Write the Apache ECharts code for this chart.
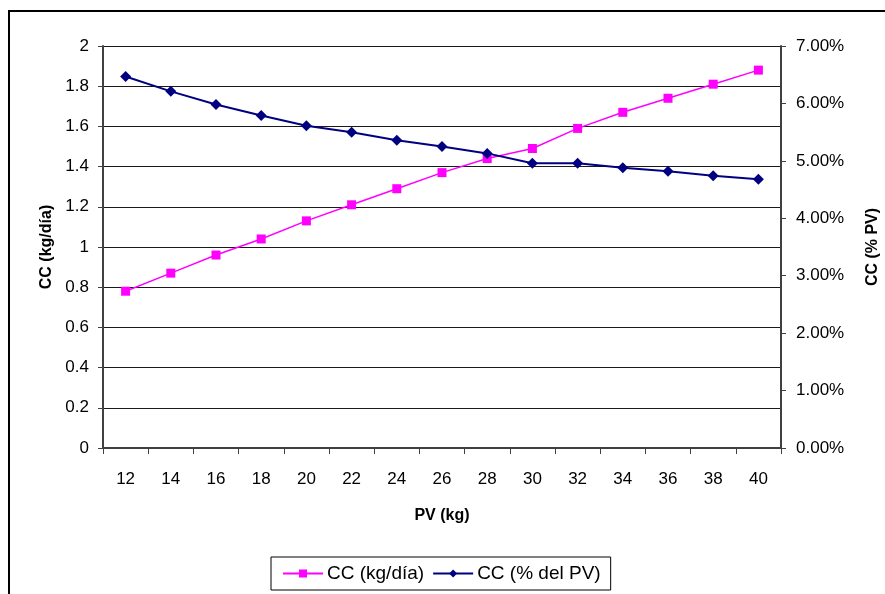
<!DOCTYPE html>
<html>
<head>
<meta charset="utf-8">
<script src="https://cdn.jsdelivr.net/npm/echarts@6/dist/echarts.min.js"></script>
<style>
  html, body { margin: 0; padding: 0; background: #fff; }
  #chart { width: 885px; height: 594px; }
</style>
</head>
<body>
<div id="chart"></div>
<script>
// PV (kg) categories
const pesoVivo = ["12", "14", "16", "18", "20", "22", "24", "26", "28", "30", "32", "34", "36", "38", "40"]
// CC (kg/día), left axis
const consumoKg = [0.78, 0.87, 0.96, 1.04, 1.13, 1.21, 1.29, 1.37, 1.44, 1.49, 1.59, 1.67, 1.74, 1.81, 1.88]
// CC (% del PV), right axis, in percent
const consumoPct = [6.47, 6.21, 5.98, 5.79, 5.61, 5.50, 5.36, 5.25, 5.13, 4.96, 4.96, 4.88, 4.82, 4.74, 4.68]

const font = "Liberation Sans, Arial, sans-serif"
const chart = echarts.init(document.getElementById("chart"))

chart.setOption({
  animation: false,
  backgroundColor: "#fff",
  textStyle: { fontFamily: font },
  graphic: [{
    type: "rect",
    shape: { x: 9, y: 11, width: 900, height: 600 },
    style: { fill: "none", stroke: "#000", lineWidth: 2 },
    silent: true
  }],
  grid: { left: 103, right: 104, top: 46, bottom: 146, containLabel: false, outerBoundsMode: "none" },
  legend: {
    left: 271,
    top: 557,
    padding: [7, 10, 7, 11],
    itemGap: 8,
    itemWidth: 40,
    itemHeight: 10,
    borderColor: "#000",
    borderWidth: 1,
    textStyle: { fontFamily: font, fontSize: 19, color: "#000", padding: [0, 0, 0, -1] },
    data: ["CC (kg/día)", "CC (% del PV)"]
  },
  xAxis: {
    type: "category",
    data: pesoVivo,
    boundaryGap: true,
    name: "PV (kg)",
    nameLocation: "middle",
    nameGap: 60,
    nameTextStyle: { fontFamily: font, fontSize: 16, fontWeight: "bold", color: "#000" },
    axisLine: { lineStyle: { color: "#404040", width: 2 } },
    axisTick: { show: true, alignWithLabel: false, length: 6, lineStyle: { color: "#404040" } },
    axisLabel: { margin: 23, fontSize: 17, color: "#000", fontFamily: font }
  },
  yAxis: [{
    type: "value",
    min: 0,
    max: 2,
    interval: 0.2,
    position: "left",
    name: "CC (kg/día)",
    nameLocation: "middle",
    nameRotate: 90,
    nameGap: 47,
    nameTextStyle: { fontFamily: font, fontSize: 16, fontWeight: "bold", color: "#000" },
    axisLine: { show: true, lineStyle: { color: "#404040", width: 2 } },
    axisTick: { show: true, length: 5, lineStyle: { color: "#404040" } },
    axisLabel: {
      margin: 14, fontSize: 17, color: "#000", fontFamily: font,
      formatter: v => String(Math.round(v * 10) / 10)
    },
    splitLine: { show: true, lineStyle: { color: "#1a1a1a", width: 1 } }
  }, {
    type: "value",
    min: 0,
    max: 7,
    interval: 1,
    position: "right",
    name: "CC (% PV)",
    nameLocation: "middle",
    nameRotate: 90,
    nameGap: 84,
    nameTextStyle: { fontFamily: font, fontSize: 16, fontWeight: "bold", color: "#000" },
    axisLine: { show: true, lineStyle: { color: "#404040", width: 2 } },
    axisTick: { show: true, length: 5, lineStyle: { color: "#404040" } },
    axisLabel: {
      margin: 15, fontSize: 17, color: "#000", fontFamily: font,
      formatter: v => v.toFixed(2) + "%"
    },
    splitLine: { show: false }
  }],
  series: [{
    name: "CC (kg/día)",
    type: "line",
    yAxisIndex: 0,
    data: consumoKg,
    symbol: "rect",
    symbolSize: 9,
    color: "#FF00FF",
    lineStyle: { color: "#FF00FF", width: 1.5 },
    itemStyle: { color: "#FF00FF" }
  }, {
    name: "CC (% del PV)",
    type: "line",
    yAxisIndex: 1,
    data: consumoPct,
    symbol: "diamond",
    symbolSize: 11,
    color: "#000080",
    lineStyle: { color: "#000080", width: 2 },
    itemStyle: { color: "#000080" }
  }]
})
</script>
</body>
</html>
